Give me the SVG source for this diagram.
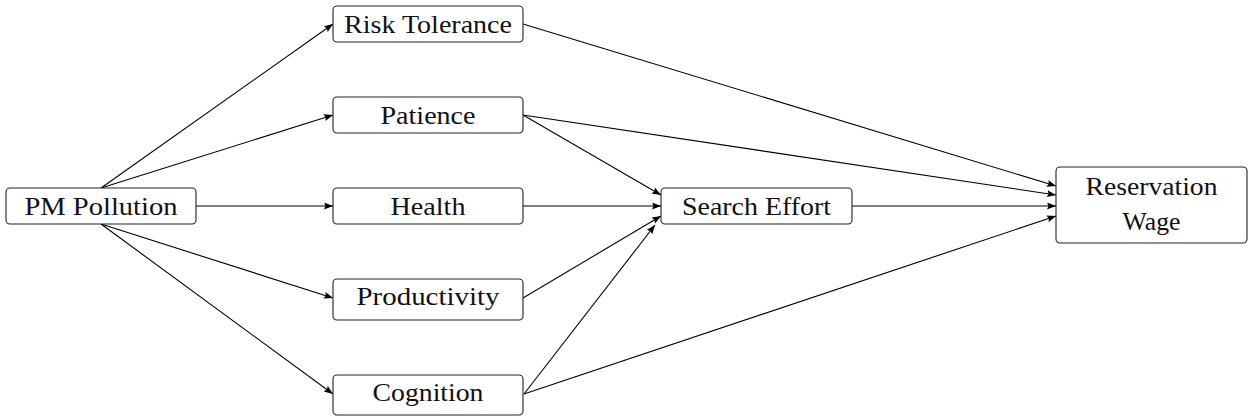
<svg xmlns="http://www.w3.org/2000/svg" width="1256" height="419" viewBox="0 0 1256 419">
<style>
.box{fill:#fff;stroke:#222;stroke-width:1.1}
.lbl{font-size:26px;fill:#111;text-anchor:middle}
.edge{stroke:#000;stroke-width:1.1;fill:none;marker-end:url(#ah)}
</style>
<defs>
<marker id="ah" markerUnits="userSpaceOnUse" markerWidth="10" markerHeight="8" refX="9" refY="3.5" orient="auto">
<path d="M0,0 L9,3.5 L0,7 L1.5,3.5 z" fill="#000"/>
</marker>
</defs>
<rect width="1256" height="419" fill="#fff"/>
<g id="connectors">
<line class="edge" x1="101" y1="188" x2="333" y2="24"/>
<line class="edge" x1="101" y1="188" x2="333" y2="115"/>
<line class="edge" x1="196" y1="206" x2="333" y2="206"/>
<line class="edge" x1="101" y1="224" x2="333" y2="298"/>
<line class="edge" x1="101" y1="224" x2="333" y2="394"/>
<line class="edge" x1="523" y1="24" x2="1056" y2="186"/>
<line class="edge" x1="523" y1="115" x2="1056" y2="195"/>
<line class="edge" x1="523" y1="115" x2="661" y2="195"/>
<line class="edge" x1="523" y1="206" x2="661" y2="206"/>
<line class="edge" x1="523" y1="298" x2="661" y2="216"/>
<line class="edge" x1="524" y1="394" x2="655" y2="225"/>
<line class="edge" x1="524" y1="394" x2="1056" y2="216"/>
<line class="edge" x1="852" y1="206" x2="1056" y2="206"/>
</g>
<g font-family="Liberation Serif, DejaVu Serif, serif">
<g id="pm"><rect class="box" x="6" y="188" width="190" height="36" rx="4"/><text class="lbl" x="101" y="215" textLength="153" lengthAdjust="spacingAndGlyphs">PM Pollution</text></g>
<g id="risk"><rect class="box" x="333" y="6" width="190" height="36" rx="4"/><text class="lbl" x="428" y="32.5" textLength="168" lengthAdjust="spacingAndGlyphs">Risk Tolerance</text></g>
<g id="patience"><rect class="box" x="333" y="97" width="190" height="36" rx="4"/><text class="lbl" x="428" y="123.5" textLength="95" lengthAdjust="spacingAndGlyphs">Patience</text></g>
<g id="health"><rect class="box" x="333" y="188" width="190" height="36" rx="4"/><text class="lbl" x="428" y="214.5" textLength="75" lengthAdjust="spacingAndGlyphs">Health</text></g>
<g id="productivity"><rect class="box" x="333" y="279" width="190" height="41" rx="4"/><text class="lbl" x="428" y="305" textLength="143" lengthAdjust="spacingAndGlyphs">Productivity</text></g>
<g id="cognition"><rect class="box" x="333" y="375" width="190" height="40" rx="4"/><text class="lbl" x="428" y="401" textLength="111" lengthAdjust="spacingAndGlyphs">Cognition</text></g>
<g id="search"><rect class="box" x="661" y="188" width="191" height="36" rx="4"/><text class="lbl" x="756.5" y="214.5" textLength="149" lengthAdjust="spacingAndGlyphs">Search Effort</text></g>
<g id="reservation"><rect class="box" x="1056" y="167" width="191" height="76" rx="4"/><text class="lbl" x="1151.5" y="195" textLength="132" lengthAdjust="spacingAndGlyphs">Reservation</text><text class="lbl" x="1151.5" y="230" textLength="58" lengthAdjust="spacingAndGlyphs">Wage</text></g>
</g>
</svg>
